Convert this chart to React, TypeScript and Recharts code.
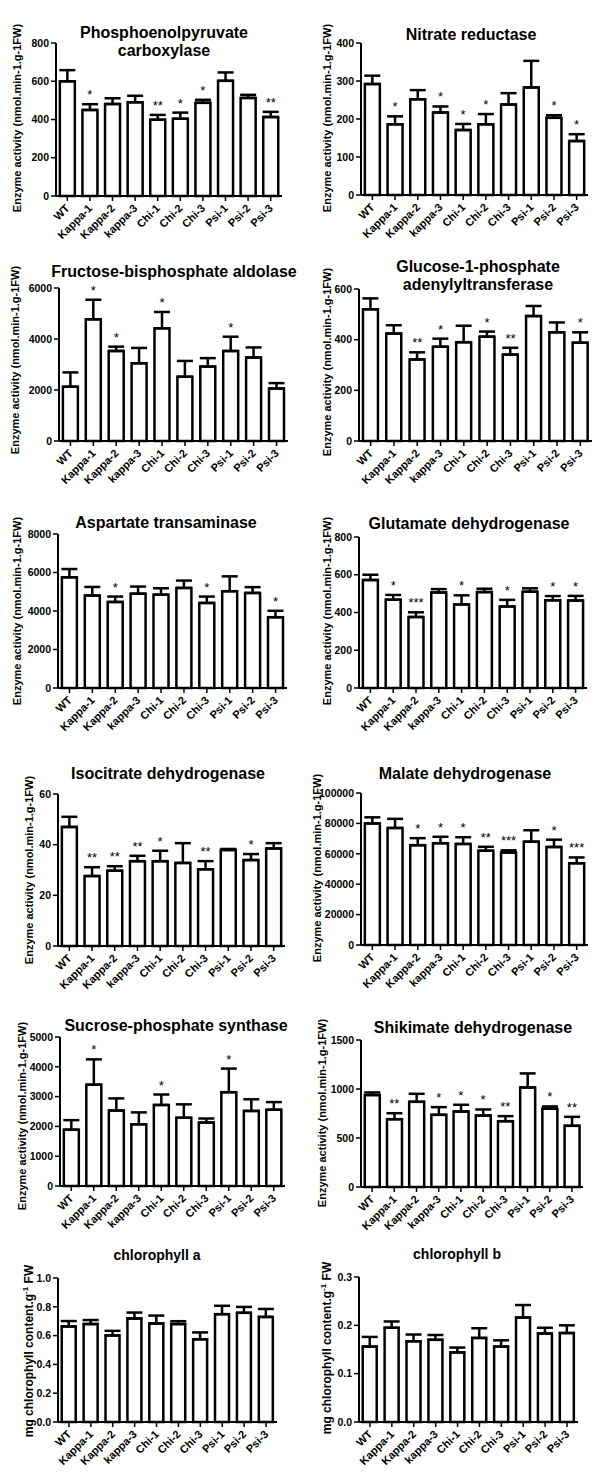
import React from 'react';
import { ComposedChart, Bar, Line, XAxis, YAxis, ErrorBar, LabelList } from 'recharts';

const FONT = '"Liberation Sans", Arial, Helvetica, sans-serif';

const CATEGORIES = ['WT', 'Kappa-1', 'Kappa-2', 'kappa-3', 'Chi-1', 'Chi-2', 'Chi-3', 'Psi-1', 'Psi-2', 'Psi-3'];

const pepMean = [600, 450, 481, 490, 399, 404, 487, 602, 513, 413];
const pepErr = [58, 30, 30, 34, 25, 32, 16, 44, 16, 27];
const pepSig = ['', '*', '', '', '**', '*', '*', '', '', '**'];
const pepTicks = [0, 200, 400, 600, 800];

const nrMean = [292, 186, 252, 217, 171, 186, 238, 283, 203, 142];
const nrErr = [22, 21, 24, 16, 16, 27, 30, 70, 7, 18];
const nrSig = ['', '*', '', '*', '*', '*', '', '', '*', '*'];
const nrTicks = [0, 100, 200, 300, 400];

const fbaMean = [2130, 4770, 3530, 3050, 4420, 2520, 2920, 3530, 3270, 2060];
const fbaErr = [560, 770, 170, 600, 640, 620, 330, 560, 400, 210];
const fbaSig = ['', '*', '*', '', '*', '', '', '*', '', ''];
const fbaTicks = [0, 2000, 4000, 6000];

const g1pMean = [520, 424, 322, 372, 390, 412, 341, 493, 429, 388];
const g1pErr = [43, 33, 28, 32, 65, 20, 27, 40, 39, 41];
const g1pSig = ['', '', '**', '*', '', '*', '**', '', '', '*'];
const g1pTicks = [0, 200, 400, 600];

const astMean = [5750, 4800, 4470, 4900, 4850, 5200, 4420, 5030, 4940, 3680];
const astErr = [430, 450, 280, 370, 330, 380, 330, 770, 300, 330];
const astSig = ['', '', '*', '', '', '', '*', '', '', '*'];
const astTicks = [0, 2000, 4000, 6000, 8000];

const gdhMean = [572, 468, 376, 506, 443, 508, 432, 510, 465, 463];
const gdhErr = [28, 25, 25, 18, 48, 18, 35, 18, 22, 25];
const gdhSig = ['', '*', '***', '', '*', '', '*', '', '*', '*'];
const gdhTicks = [0, 200, 400, 600, 800];

const icdMean = [47, 27.6, 29.7, 33.5, 33.5, 32.8, 30.3, 37.9, 33.9, 38.5];
const icdErr = [4, 3.5, 1.8, 2.1, 4.1, 7.8, 3.2, 0.4, 2.4, 2.1];
const icdSig = ['', '**', '**', '**', '*', '', '**', '', '*', ''];
const icdTicks = [0, 20, 40, 60];

const mdhMean = [80000, 77000, 65700, 67000, 66500, 62000, 60800, 68000, 64500, 53800];
const mdhErr = [4000, 6000, 4600, 4200, 4400, 2600, 1500, 7500, 4800, 3800];
const mdhSig = ['', '', '*', '*', '*', '**', '***', '', '*', '***'];
const mdhTicks = [0, 20000, 40000, 60000, 80000, 100000];

const spsMean = [1890, 3400, 2530, 2070, 2720, 2290, 2130, 3150, 2520, 2560];
const spsErr = [320, 850, 410, 400, 350, 450, 135, 790, 390, 256];
const spsSig = ['', '*', '', '', '*', '', '', '*', '', ''];
const spsTicks = [0, 1000, 2000, 3000, 4000, 5000];

const skdhMean = [938, 692, 869, 736, 770, 729, 672, 1016, 798, 624];
const skdhErr = [27, 61, 82, 79, 69, 62, 51, 143, 24, 92];
const skdhSig = ['', '**', '', '*', '*', '*', '**', '', '*', '**'];
const skdhTicks = [0, 500, 1000, 1500];

const chlaMean = [0.664, 0.68, 0.601, 0.719, 0.684, 0.68, 0.574, 0.749, 0.758, 0.73];
const chlaErr = [0.037, 0.028, 0.032, 0.041, 0.055, 0.02, 0.048, 0.058, 0.041, 0.055];
const chlaSig = ['', '', '', '', '', '', '', '', '', ''];
const chlaTicks = [0, 0.2, 0.4, 0.6, 0.8, 1.0];

const chlbMean = [0.156, 0.195, 0.167, 0.17, 0.144, 0.174, 0.156, 0.216, 0.183, 0.184];
const chlbErr = [0.02, 0.013, 0.014, 0.01, 0.01, 0.02, 0.013, 0.026, 0.012, 0.016];
const chlbSig = ['', '', '', '', '', '', '', '', '', ''];
const chlbTicks = [0, 0.1, 0.2, 0.3];

type Cfg = {
  left: number; axisX: number; plotRight: number; yTop: number; yBottom: number;
  mean: number[]; err: number[]; sig: string[]; ticks: number[]; decimals?: number;
  title: string[]; titleX: number; titleY: number; titleSize: number;
  chl?: boolean; labelX: number; labelY: number;
};

const panels: Cfg[] = [
  { left: 0, axisX: 56, plotRight: 282, yTop: 43, yBottom: 196, mean: pepMean, err: pepErr, sig: pepSig, ticks: pepTicks,
    title: ['Phosphoenolpyruvate', 'carboxylase'], titleX: 164, titleY: 33, titleSize: 16, labelX: 17, labelY: 118 },
  { left: 300, axisX: 361, plotRight: 588, yTop: 43, yBottom: 195, mean: nrMean, err: nrErr, sig: nrSig, ticks: nrTicks,
    title: ['Nitrate reductase'], titleX: 471, titleY: 35, titleSize: 16, labelX: 327, labelY: 118 },
  { left: 0, axisX: 59, plotRight: 288, yTop: 288, yBottom: 441, mean: fbaMean, err: fbaErr, sig: fbaSig, ticks: fbaTicks,
    title: ['Fructose-bisphosphate aldolase'], titleX: 174, titleY: 272, titleSize: 16, labelX: 15, labelY: 360 },
  { left: 300, axisX: 359, plotRight: 592, yTop: 289, yBottom: 441, mean: g1pMean, err: g1pErr, sig: g1pSig, ticks: g1pTicks,
    title: ['Glucose-1-phosphate', 'adenylyltransferase'], titleX: 478, titleY: 267, titleSize: 16, labelX: 327, labelY: 362 },
  { left: 0, axisX: 58, plotRight: 287, yTop: 534, yBottom: 688, mean: astMean, err: astErr, sig: astSig, ticks: astTicks,
    title: ['Aspartate transaminase'], titleX: 166, titleY: 523, titleSize: 16, labelX: 17, labelY: 611 },
  { left: 300, axisX: 359, plotRight: 587, yTop: 537, yBottom: 688, mean: gdhMean, err: gdhErr, sig: gdhSig, ticks: gdhTicks,
    title: ['Glutamate dehydrogenase'], titleX: 469, titleY: 524, titleSize: 16, labelX: 327, labelY: 611 },
  { left: 0, axisX: 58, plotRight: 285, yTop: 794, yBottom: 946, mean: icdMean, err: icdErr, sig: icdSig, ticks: icdTicks,
    title: ['Isocitrate dehydrogenase'], titleX: 168, titleY: 774, titleSize: 16, labelX: 29, labelY: 870 },
  { left: 300, axisX: 361, plotRight: 588, yTop: 793, yBottom: 945, mean: mdhMean, err: mdhErr, sig: mdhSig, ticks: mdhTicks,
    title: ['Malate dehydrogenase'], titleX: 465, titleY: 774, titleSize: 16, labelX: 317, labelY: 868 },
  { left: 0, axisX: 60, plotRight: 285, yTop: 1037, yBottom: 1186, mean: spsMean, err: spsErr, sig: spsSig, ticks: spsTicks,
    title: ['Sucrose-phosphate synthase'], titleX: 176, titleY: 1026, titleSize: 16, labelX: 22, labelY: 1116 },
  { left: 300, axisX: 361, plotRight: 583, yTop: 1040, yBottom: 1187, mean: skdhMean, err: skdhErr, sig: skdhSig, ticks: skdhTicks,
    title: ['Shikimate dehydrogenase'], titleX: 473, titleY: 1028, titleSize: 16, labelX: 322, labelY: 1113 },
  { left: 0, axisX: 58, plotRight: 277, yTop: 1278, yBottom: 1422, mean: chlaMean, err: chlaErr, sig: chlaSig, ticks: chlaTicks, decimals: 1,
    title: ['chlorophyll a'], titleX: 157, titleY: 1255, titleSize: 14, chl: true, labelX: 27, labelY: 1351 },
  { left: 300, axisX: 359, plotRight: 578, yTop: 1277, yBottom: 1422, mean: chlbMean, err: chlbErr, sig: chlbSig, ticks: chlbTicks, decimals: 1,
    title: ['chlorophyll b'], titleX: 457, titleY: 1254, titleSize: 14, chl: true, labelX: 325, labelY: 1348 },
];

const XTick = (props: any) => {
  const { x, y, payload } = props;
  const ax = x + 3;
  const ay = y + 6;
  return (
    <text x={ax} y={ay} transform={`rotate(-45, ${ax}, ${ay})`} textAnchor="end"
      fontFamily={FONT} fontWeight="bold" fontSize={11} fill="#000">
      {payload.value}
    </text>
  );
};

const StarLabel = (props: any) => {
  const { x, y, value } = props;
  if (!value) return null;
  return (
    <text x={x} y={y - 5} textAnchor="middle" fontFamily={FONT} fontSize={13} fill="#000">{value}</text>
  );
};

function Panel({ cfg }: { cfg: Cfg }) {
  const data = CATEGORIES.map((name, i) => ({
    name,
    mean: cfg.mean[i],
    errRange: [0, cfg.err[i]],
    top: cfg.mean[i] + cfg.err[i],
    sig: cfg.sig[i],
  }));
  const YW = 40;
  const XH = 55;
  const height = cfg.yBottom - cfg.yTop + 70;
  const margin = { top: 10, right: cfg.left + 300 - cfg.plotRight, bottom: 5, left: cfg.axisX - cfg.left - YW };
  const fmt = (v: number) => (cfg.decimals ? v.toFixed(cfg.decimals) : String(v));
  return (
    <>
      <div style={{ position: 'absolute', left: cfg.left, top: cfg.yTop - 10, width: 300, height }}>
        <ComposedChart width={300} height={height} data={data} margin={margin} barCategoryGap="17%">
          <XAxis dataKey="name" type="category" interval={0} height={XH} tick={<XTick />}
            tickSize={5} tickMargin={2} axisLine={{ stroke: '#000', strokeWidth: 2 }} tickLine={{ stroke: '#000', strokeWidth: 1.5 }} />
          <YAxis type="number" width={YW} domain={[cfg.ticks[0], cfg.ticks[cfg.ticks.length - 1]]} ticks={cfg.ticks}
            interval={0} tickFormatter={fmt} tickSize={5} tickMargin={2}
            axisLine={{ stroke: '#000', strokeWidth: 2 }} tickLine={{ stroke: '#000', strokeWidth: 1.5 }}
            tick={{ fill: '#000', fontSize: 10.5, fontWeight: 'bold', fontFamily: FONT }} />
          <Bar dataKey="mean" fill="#fff" stroke="#000" strokeWidth={2.5} isAnimationActive={false}>
            <ErrorBar dataKey="errRange" width={8} strokeWidth={2.5} stroke="#000" direction="y" />
          </Bar>
          <Line dataKey="top" stroke="none" dot={false} activeDot={false} isAnimationActive={false} legendType="none">
            <LabelList dataKey="sig" content={<StarLabel />} />
          </Line>
        </ComposedChart>
      </div>
      <div style={{
        position: 'absolute', left: cfg.titleX, top: cfg.titleY - 9.25, transform: 'translateX(-50%)',
        fontFamily: FONT, fontWeight: 'bold', fontSize: cfg.titleSize, lineHeight: '18.5px', textAlign: 'center',
        whiteSpace: 'nowrap', color: '#000',
      }}>
        {cfg.title.map((t, i) => <div key={i}>{t}</div>)}
      </div>
      <div style={{
        position: 'absolute', left: cfg.labelX, top: cfg.labelY, transform: 'translate(-50%, -50%) rotate(-90deg)',
        fontFamily: FONT, fontWeight: 'bold', fontSize: cfg.chl ? 12 : 11, whiteSpace: 'nowrap', color: '#000', lineHeight: '14px',
      }}>
        {cfg.chl ? <span>mg chlorophyll content.g<sup style={{ fontSize: 8 }}>-1</sup> FW</span> : 'Enzyme activity (nmol.min-1.g-1FW)'}
      </div>
    </>
  );
}

export default function App() {
  return (
    <div style={{ position: 'absolute', left: 0, top: 0, width: 600, height: 1482, background: '#fff', overflow: 'hidden' }}>
      {panels.map((p, i) => <Panel key={i} cfg={p} />)}
    </div>
  );
}
